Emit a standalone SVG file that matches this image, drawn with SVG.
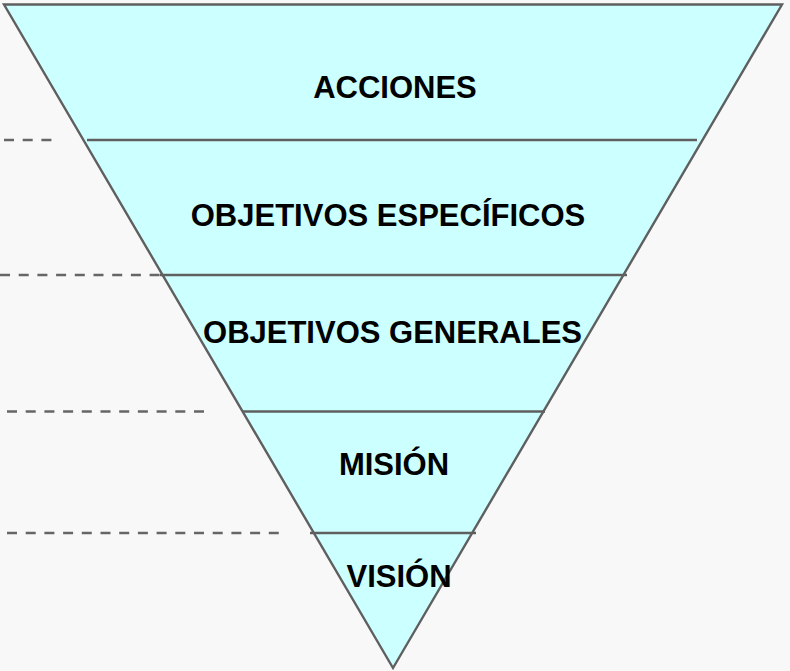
<svg xmlns="http://www.w3.org/2000/svg" width="790" height="671" viewBox="0 0 790 671">
<style>
.edge{stroke:#5f5f5f;stroke-width:2.4;fill:none}
.dash{stroke:#666;stroke-width:2.4;stroke-dasharray:10 8.7;fill:none}
.lbl{font-family:"Liberation Sans",Arial,sans-serif;font-weight:bold;font-size:31px;fill:#000;text-anchor:middle}
</style>
<rect x="0" y="0" width="790" height="671" fill="#f8f8f8"/>
<g id="pyramid">
<polygon points="4,4.5 782,4.5 393,668" fill="#ccffff" stroke="none"/>
</g>
<g id="connectors">
<line class="edge" x1="87" y1="140" x2="697" y2="140"/>
<line class="edge" x1="160" y1="275" x2="627" y2="275"/>
<line class="edge" x1="243" y1="411.5" x2="545" y2="411.5"/>
<line class="edge" x1="310" y1="533" x2="476" y2="533"/>
<line class="dash" x1="4" y1="140" x2="52" y2="140"/>
<line class="dash" x1="0" y1="275" x2="160" y2="275"/>
<line class="dash" x1="7" y1="411.5" x2="205" y2="411.5"/>
<line class="dash" x1="7" y1="533" x2="279" y2="533"/>
</g>
<g id="outline">
<polygon class="edge" points="4,4.5 782,4.5 393,668" stroke-linejoin="miter"/>
</g>
<g id="acciones"><text class="lbl" x="395" y="98">ACCIONES</text></g>
<g id="objetivos-especificos"><text class="lbl" x="388" y="226">OBJETIVOS ESPECÍFICOS</text></g>
<g id="objetivos-generales"><text class="lbl" x="392.5" y="343">OBJETIVOS GENERALES</text></g>
<g id="mision"><text class="lbl" x="394" y="475">MISIÓN</text></g>
<g id="vision"><text class="lbl" x="399" y="587">VISIÓN</text></g>
</svg>
